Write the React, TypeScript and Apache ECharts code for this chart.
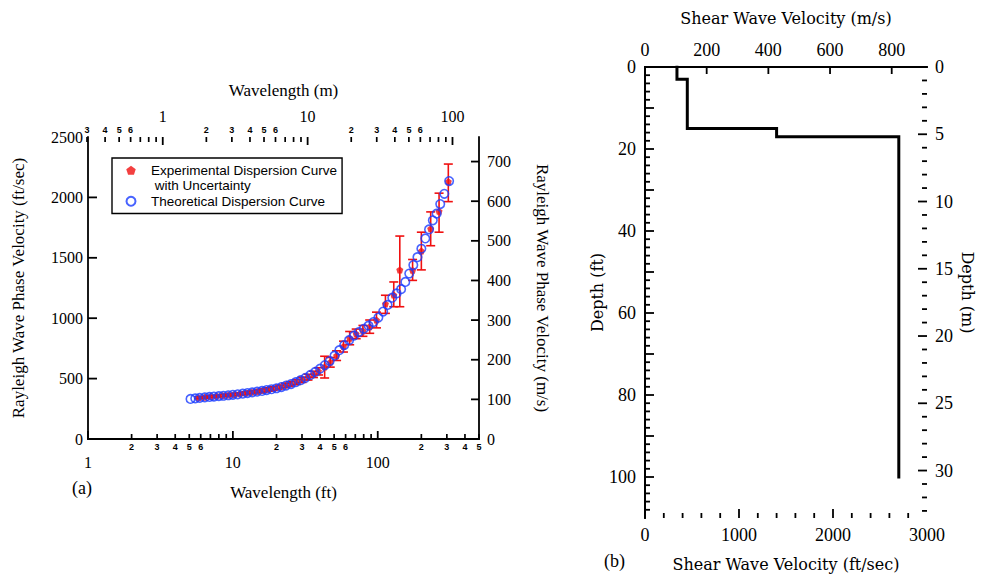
import React, { useEffect, useRef } from 'react';
import * as echarts from 'echarts';

const M_PER_FT = 0.3048;

// (a) Theoretical dispersion curve: wavelength (ft) vs Rayleigh phase velocity (ft/sec)
const theoreticalWavelengthFt = [
  5.1, 5.5, 5.9, 6.4, 6.9, 7.4, 8.0, 8.6, 9.3, 10.0,
  10.8, 11.7, 12.6, 13.6, 14.7, 15.9, 17.1, 18.5, 20.0, 21.6,
  23.3, 25.2, 27.2, 29.4, 31.7, 34.3, 37.0, 40.0, 43.2, 46.6,
  50.3, 54.3, 58.7, 63.4, 68.5, 74.0, 80.0, 86.4, 93.3, 101,
  109, 117, 126, 135, 145, 155, 165, 176, 188, 200,
  213, 226, 240, 255, 270, 288, 311,
];
const theoreticalVelocityFtS = [
  332, 336, 340, 344, 348, 351, 355, 358, 362, 366,
  370, 375, 380, 386, 392, 398, 405, 412, 420, 430,
  442, 455, 470, 487, 507, 530, 555, 582, 612, 645,
  690, 735, 778, 818, 855, 885, 912, 938, 968, 1005,
  1055, 1110, 1170, 1205, 1240, 1300, 1370, 1440, 1505, 1575,
  1660, 1735, 1810, 1865, 1945, 2030, 2135,
];

// (a) Experimental dispersion curve with uncertainty bounds
const experimentalWavelengthFt = [
  5.8, 6.4, 7.0, 7.7, 8.5, 9.3, 10.2, 11.2, 12.3, 13.4,
  14.7, 16.0, 17.5, 19.0, 21.0, 23.0, 25.0, 27.5, 30.0, 33.0,
  36.0, 39.0, 43.0, 47.0, 52.0, 58.0, 64.0, 71.0, 79.0, 88.0,
  98.0, 113, 129, 142, 174, 200, 232, 265, 307,
];
const experimentalVelocityFtS = [
  341, 346, 351, 355, 360, 364, 369, 374, 380, 387,
  394, 401, 410, 418, 430, 444, 457, 472, 490, 512,
  535, 560, 595, 635, 690, 765, 835, 870, 895, 930,
  985, 1118, 1192, 1400, 1396, 1556, 1740, 1885, 2130,
];
const experimentalLowerFtS = [
  333, 338, 343, 347, 351, 355, 359, 364, 369, 376,
  382, 388, 396, 403, 414, 427, 439, 452, 468, 488,
  509, 530, 505, 595, 650, 720, 780, 830, 850, 875,
  920, 1040, 1095, 1095, 1313, 1400, 1600, 1712, 1965,
];
const experimentalUpperFtS = [
  349, 354, 359, 363, 369, 373, 379, 384, 391, 398,
  406, 414, 424, 433, 446, 461, 475, 492, 512, 536,
  561, 590, 685, 675, 730, 810, 890, 910, 940, 985,
  1050, 1190, 1300, 1680, 1486, 1712, 1880, 2035, 2276,
];

// Tick positions of the logarithmic wavelength axes
const wavelengthDecadeTicks = [1, 10, 100];
const wavelengthFtMinorTicks = [
  2, 3, 4, 5, 6, 7, 8, 9,
  20, 30, 40, 50, 60, 70, 80, 90,
  200, 300, 400, 500,
];
const wavelengthMMinorTicks = [
  0.3, 0.4, 0.5, 0.6, 0.7, 0.8, 0.9,
  2, 3, 4, 5, 6, 7, 8, 9,
  20, 30, 40, 50, 60, 70, 80, 90,
];
const phaseVelocityFtTicks = [500, 1000, 1500, 2000];
const phaseVelocityMTicks = [100, 200, 300, 400, 500, 600, 700];

// (b) Layered shear wave velocity profile
const layerTopFt = [0, 3, 15, 17];
const layerBottomFt = [3, 15, 17, 100];
const layerVsFtS = [340, 450, 1400, 2700];

const vsMTicks = [200, 400, 600, 800];

const WAVELENGTH_FT_MIN = 1;
const WAVELENGTH_FT_MAX = 500;
const PHASE_VEL_FT_MAX = 2500;
const VS_FT_MAX = 3000;
const DEPTH_FT_MAX = 110;
const DEPTH_M_MAX = DEPTH_FT_MAX * M_PER_FT;

const SERIF = '"Liberation Serif", "Times New Roman", serif';
const WIDE_SERIF = '"DejaVu Serif", "Liberation Serif", serif';
const SANS = '"Liberation Sans", Arial, sans-serif';
const RED = '#f01010';
const BLUE = '#1a3cff';
const BLACK = '#000';

const PENTAGON = 'path://M0,-10 L9.5,-3.1 L5.9,8.1 L-5.9,8.1 L-9.5,-3.1 Z';

const steps = (from: number, to: number, step: number) => {
  const out: number[] = [];
  for (let v = from; v <= to + 1e-9; v += step) out.push(Math.round(v * 1000) / 1000);
  return out;
};
const isMultiple = (v: number, step: number) => Math.abs(v / step - Math.round(v / step)) < 1e-6;

const decadeLabel = (v: number) => {
  const l = Math.log10(v);
  return Math.abs(l - Math.round(l)) < 1e-6 ? String(Math.round(v)) : '';
};
const multipleLabel = (step: number) => (v: number) => (isMultiple(v, step) ? String(Math.round(v)) : '');
const minorDigit = (v: number) => {
  const d = Math.round(v / Math.pow(10, Math.floor(Math.log10(v) + 1e-9)));
  return d <= 6 ? String(d) : '';
};

type Side = 'bottom' | 'top' | 'left' | 'right';

// Inward tick marks along one edge of a grid, positioned through the axis scale
function tickSeries(
  side: Side,
  xAxisIndex: number,
  yAxisIndex: number,
  values: number[],
  other: number,
  length: (v: number) => number,
  width: number,
  label?: (v: number) => string,
) {
  const horizontal = side === 'bottom' || side === 'top';
  return {
    type: 'custom',
    name: 'ticks',
    xAxisIndex,
    yAxisIndex,
    silent: true,
    clip: false,
    z: 6,
    encode: { x: 0, y: 1 },
    data: values.map((v) => (horizontal ? [v, other] : [other, v])),
    renderItem: (params: any, api: any) => {
      const cs = params.coordSys;
      const v = horizontal ? api.value(0) : api.value(1);
      const len = length(v);
      const style = { stroke: BLACK, lineWidth: width, fill: null };
      const children: any[] = [];
      if (horizontal) {
        const px = api.coord([v, other])[0];
        const y0 = side === 'bottom' ? cs.y + cs.height : cs.y;
        const dir = side === 'bottom' ? -1 : 1;
        children.push({ type: 'line', shape: { x1: px, y1: y0, x2: px, y2: y0 + dir * len }, style });
        const text = label ? label(v) : '';
        if (text) {
          children.push({
            type: 'text',
            x: px,
            y: side === 'bottom' ? y0 + 3 : y0 - 3,
            style: {
              text, fontFamily: SANS, fontWeight: 'bold', fontSize: 9, fill: BLACK,
              align: 'center', verticalAlign: side === 'bottom' ? 'top' : 'bottom',
            },
          });
        }
      } else {
        const py = api.coord([other, v])[1];
        const x0 = side === 'left' ? cs.x : cs.x + cs.width;
        const dir = side === 'left' ? 1 : -1;
        children.push({ type: 'line', shape: { x1: x0, y1: py, x2: x0 + dir * len, y2: py }, style });
      }
      return { type: 'group', children };
    },
  };
}

function buildOption() {
  const line = (w: number) => ({ show: true, lineStyle: { color: BLACK, width: w } });
  const tickLabel = (size: number, margin: number, formatter: any) => ({
    show: true, color: BLACK, fontFamily: SERIF, fontSize: size, margin, formatter,
  });
  const axisName = (family: string, size: number) => ({ color: BLACK, fontFamily: family, fontSize: size });
  const noTicks = { axisTick: { show: false }, minorTick: { show: false }, splitLine: { show: false } };

  const profile: number[][] = [];
  layerVsFtS.forEach((vs, i) => {
    profile.push([vs, layerTopFt[i]]);
    profile.push([vs, layerBottomFt[i]]);
  });

  return {
    animation: false,
    backgroundColor: '#fff',
    grid: [
      { left: 88, top: 137, width: 391, height: 302 },
      { left: 645, top: 67, width: 282, height: 451 },
    ],
    legend: {
      left: 112,
      top: 158,
      orient: 'vertical',
      selectedMode: false,
      padding: [5, 5, 5, 10],
      itemGap: 1,
      itemWidth: 18,
      itemHeight: 9,
      borderColor: BLACK,
      borderWidth: 1.4,
      borderRadius: 0,
      backgroundColor: '#fff',
      textStyle: {
        color: BLACK, fontFamily: SANS, fontSize: 13.5, lineHeight: 14.5, padding: [0, 0, 0, 6],
      },
      data: [
        { name: 'Experimental Dispersion Curve', icon: PENTAGON },
        { name: ' with Uncertainty', icon: 'none' },
        { name: 'Theoretical Dispersion Curve', icon: 'circle' },
      ],
    },
    xAxis: [
      {
        type: 'log', gridIndex: 0, position: 'bottom',
        min: WAVELENGTH_FT_MIN, max: WAVELENGTH_FT_MAX,
        name: 'Wavelength (ft)', nameLocation: 'middle', nameGap: 45, nameTextStyle: axisName(SERIF, 17),
        axisLine: line(1.8), ...noTicks,
        axisLabel: tickLabel(16, 15, decadeLabel),
      },
      {
        type: 'log', gridIndex: 0, position: 'top',
        min: WAVELENGTH_FT_MIN * M_PER_FT, max: WAVELENGTH_FT_MAX * M_PER_FT,
        name: 'Wavelength (m)', nameLocation: 'middle', nameGap: 38, nameTextStyle: axisName(SERIF, 17),
        axisLine: line(1.8), ...noTicks,
        axisLabel: tickLabel(16, 13, decadeLabel),
      },
      {
        type: 'value', gridIndex: 1, position: 'bottom',
        min: 0, max: VS_FT_MAX, interval: 1000,
        name: 'Shear Wave Velocity (ft/sec)', nameLocation: 'middle', nameGap: 38,
        nameTextStyle: axisName(WIDE_SERIF, 16),
        axisLine: line(2), ...noTicks,
        axisLabel: tickLabel(18, 8, multipleLabel(1000)),
      },
      {
        type: 'value', gridIndex: 1, position: 'top',
        min: 0, max: VS_FT_MAX * M_PER_FT, interval: 200,
        name: 'Shear Wave Velocity (m/s)', nameLocation: 'middle', nameGap: 41,
        nameTextStyle: axisName(WIDE_SERIF, 16),
        axisLine: line(2), ...noTicks,
        axisLabel: tickLabel(18, 8, multipleLabel(200)),
      },
    ],
    yAxis: [
      {
        type: 'value', gridIndex: 0, position: 'left',
        min: 0, max: PHASE_VEL_FT_MAX, interval: 500,
        name: 'Rayleigh Wave Phase Velocity (ft/sec)', nameLocation: 'middle', nameGap: 61, nameRotate: 90,
        nameTextStyle: axisName(SERIF, 17),
        axisLine: line(1.8), ...noTicks,
        axisLabel: tickLabel(16, 5, multipleLabel(500)),
      },
      {
        type: 'value', gridIndex: 0, position: 'right',
        min: 0, max: PHASE_VEL_FT_MAX * M_PER_FT, interval: 100,
        name: 'Rayleigh Wave Phase Velocity (m/s)', nameLocation: 'middle', nameGap: 55, nameRotate: -90,
        nameTextStyle: axisName(SERIF, 17),
        axisLine: line(1.8), ...noTicks,
        axisLabel: tickLabel(16, 8, multipleLabel(100)),
      },
      {
        type: 'value', gridIndex: 1, position: 'left', inverse: true,
        min: 0, max: DEPTH_FT_MAX, interval: 10,
        name: 'Depth (ft)', nameLocation: 'middle', nameGap: 40, nameRotate: 90,
        nameTextStyle: axisName(WIDE_SERIF, 16),
        axisLine: line(2), ...noTicks,
        axisLabel: tickLabel(18, 9, multipleLabel(20)),
      },
      {
        type: 'value', gridIndex: 1, position: 'right', inverse: true,
        min: 0, max: DEPTH_M_MAX, interval: 5,
        name: 'Depth (m)', nameLocation: 'middle', nameGap: 32, nameRotate: -90,
        nameTextStyle: axisName(WIDE_SERIF, 16),
        axisLine: line(2), ...noTicks,
        axisLabel: tickLabel(18, 8, multipleLabel(5)),
      },
    ],
    series: [
      // panel (a) axis ticks
      tickSeries('bottom', 0, 0, wavelengthDecadeTicks, 0, () => 8, 1.8),
      tickSeries('bottom', 0, 0, wavelengthFtMinorTicks, 0, () => 5, 1.7, minorDigit),
      tickSeries('top', 1, 0, wavelengthDecadeTicks, PHASE_VEL_FT_MAX, () => 8, 1.8),
      tickSeries('top', 1, 0, wavelengthMMinorTicks, PHASE_VEL_FT_MAX, () => 5, 1.7, minorDigit),
      tickSeries('left', 0, 0, phaseVelocityFtTicks, WAVELENGTH_FT_MIN, () => 9, 1.8),
      tickSeries('right', 0, 1, phaseVelocityMTicks, WAVELENGTH_FT_MIN, () => 8, 1.8),
      // panel (b) axis ticks
      tickSeries('bottom', 2, 2, steps(200, 2800, 200), 0, (v) => (isMultiple(v, 1000) ? 9 : 5), 1.8),
      tickSeries('top', 3, 2, vsMTicks, 0, () => 7, 1.8),
      tickSeries('left', 2, 2, steps(2, 108, 2), 0, (v) => (isMultiple(v, 10) ? 9 : 5), 1.8),
      tickSeries('right', 2, 3, steps(1, 33, 1), 0, (v) => (isMultiple(v, 5) ? 9 : 5), 1.8),
      {
        type: 'custom',
        name: 'Uncertainty',
        xAxisIndex: 0,
        yAxisIndex: 0,
        silent: true,
        encode: { x: 0, y: [1, 2] },
        data: experimentalWavelengthFt.map((x, i) => [x, experimentalLowerFtS[i], experimentalUpperFtS[i]]),
        renderItem: (_params: any, api: any) => {
          const lo = api.coord([api.value(0), api.value(1)]);
          const hi = api.coord([api.value(0), api.value(2)]);
          const cap = 4.5;
          const style = { stroke: RED, lineWidth: 1.6, fill: null };
          return {
            type: 'group',
            children: [
              { type: 'line', shape: { x1: lo[0], y1: lo[1], x2: hi[0], y2: hi[1] }, style },
              { type: 'line', shape: { x1: lo[0] - cap, y1: lo[1], x2: lo[0] + cap, y2: lo[1] }, style },
              { type: 'line', shape: { x1: hi[0] - cap, y1: hi[1], x2: hi[0] + cap, y2: hi[1] }, style },
            ],
          };
        },
        z: 2,
      },
      {
        type: 'scatter',
        name: 'Experimental Dispersion Curve',
        xAxisIndex: 0,
        yAxisIndex: 0,
        symbol: PENTAGON,
        symbolSize: 7,
        itemStyle: { color: RED },
        data: experimentalWavelengthFt.map((x, i) => [x, experimentalVelocityFtS[i]]),
        z: 3,
      },
      {
        type: 'scatter',
        name: ' with Uncertainty',
        xAxisIndex: 0,
        yAxisIndex: 0,
        data: [],
      },
      {
        type: 'scatter',
        name: 'Theoretical Dispersion Curve',
        xAxisIndex: 0,
        yAxisIndex: 0,
        symbol: 'circle',
        symbolSize: 8.5,
        itemStyle: { color: 'rgba(255,255,255,0)', borderColor: BLUE, borderWidth: 1.6 },
        data: theoreticalWavelengthFt.map((x, i) => [x, theoreticalVelocityFtS[i]]),
        z: 4,
      },
      {
        type: 'line',
        name: 'Vs profile',
        xAxisIndex: 2,
        yAxisIndex: 2,
        showSymbol: false,
        symbol: 'none',
        lineStyle: { color: BLACK, width: 3, cap: 'square', join: 'miter' },
        data: profile,
        z: 3,
      },
    ],
    graphic: [
      { type: 'text', left: 72, top: 479, style: { text: '(a)', fontFamily: SERIF, fontSize: 18, fill: BLACK } },
      { type: 'text', left: 604, top: 552, style: { text: '(b)', fontFamily: SERIF, fontSize: 18, fill: BLACK } },
    ],
  };
}

export default function App() {
  const ref = useRef<HTMLDivElement>(null);

  useEffect(() => {
    if (!ref.current) return;
    const chart = echarts.init(ref.current, undefined, { renderer: 'svg' });
    chart.setOption(buildOption() as any);
    return () => chart.dispose();
  }, []);

  return (
    <div
      ref={ref}
      style={{ position: 'fixed', left: 0, top: 0, width: 988, height: 580, background: '#fff' }}
    />
  );
}
